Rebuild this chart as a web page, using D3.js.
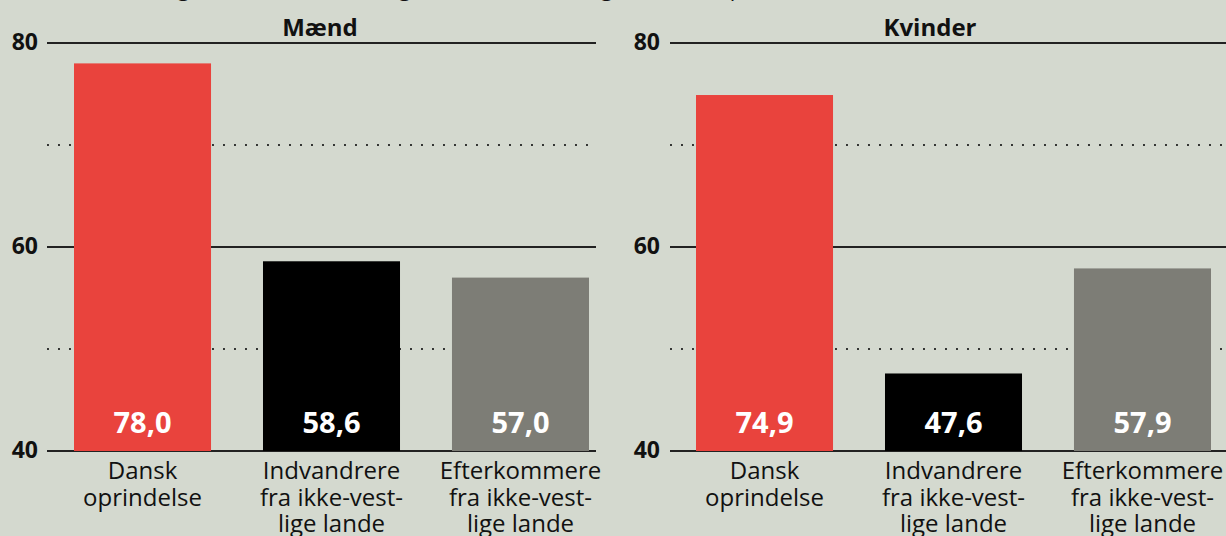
<!DOCTYPE html>
<html>
<head>
<meta charset="utf-8">
<script src="https://cdn.jsdelivr.net/npm/d3@7"></script>
<style>
  html, body { margin: 0; padding: 0; background: #d4d9cf; }
  svg { display: block; font-family: "Open Sans", "Noto Sans", sans-serif; }
</style>
</head>
<body>
<div id="chart"></div>
<script>
// data
var categories = [
  ["Dansk", "oprindelse"],
  ["Indvandrere", "fra ikke-vest-", "lige lande"],
  ["Efterkommere", "fra ikke-vest-", "lige lande"]
];
var maend = [78.0, 58.6, 57.0];
var kvinder = [74.9, 47.6, 57.9];
var panelTitles = ["Mænd", "Kvinder"];
var solidTicks = [40, 60, 80];
var dottedTicks = [50, 70];
var barColors = ["#e9433d", "#000000", "#7d7d76"];
var topTitle = "Andel i beskæftigelse blandt 30-59-årige efter herkomst og køn, 2019, pct.";

var W = 1226, H = 536;

// panel geometry
var panels = [
  { title: panelTitles[0], values: maend, lineX0: 47, lineX1: 596, barX0: 74, barX1: 589, labelX: 38, titleX: 320 },
  { title: panelTitles[1], values: kvinder, lineX0: 670, lineX1: 1226, barX0: 696, barX1: 1211, labelX: 660, titleX: 930 }
];

var locale = d3.formatLocale({ decimal: ",", thousands: ".", grouping: [3], currency: ["", " kr."] });
var fmt = locale.format(".1f");

var y = d3.scaleLinear().domain([40, 80]).range([451, 43]);

var svg = d3.select("#chart").append("svg")
  .attr("width", W)
  .attr("height", H);

svg.append("rect").attr("width", W).attr("height", H).attr("fill", "#d4d9cf");

// title cut off at the top
svg.append("text")
  .attr("x", 14)
  .attr("y", -4)
  .style("font-size", "22px")
  .attr("fill", "#111")
  .text(topTitle);

panels.forEach(function(p){
  var g = svg.append("g");

  var x = d3.scaleBand()
    .domain(d3.range(categories.length))
    .range([p.barX0, p.barX1])
    .paddingInner(0.275)
    .paddingOuter(0);

  // dotted grid
  g.selectAll(".dot")
    .data(dottedTicks)
    .enter()
    .append("line")
    .attr("x1", p.lineX0 + 1)
    .attr("x2", p.lineX1)
    .attr("y1", function(d){ return y(d); })
    .attr("y2", function(d){ return y(d); })
    .attr("stroke", "#111")
    .attr("stroke-width", 2.2)
    .attr("stroke-linecap", "round")
    .attr("stroke-dasharray", "0,11");

  // solid grid
  g.selectAll(".solid")
    .data(solidTicks)
    .enter()
    .append("line")
    .attr("x1", p.lineX0)
    .attr("x2", p.lineX1)
    .attr("y1", function(d){ return y(d); })
    .attr("y2", function(d){ return y(d); })
    .attr("stroke", "#222")
    .attr("stroke-width", 2);

  // tick labels
  g.selectAll(".tick")
    .data(solidTicks)
    .enter()
    .append("text")
    .attr("x", p.labelX)
    .attr("y", function(d){ return y(d) + 7; })
    .attr("text-anchor", "end")
    .style("font-size", "23px")
    .style("font-weight", "bold")
    .attr("fill", "#111")
    .text(function(d){ return d; });

  // panel title
  g.append("text")
    .attr("x", p.titleX)
    .attr("y", 36)
    .attr("text-anchor", "middle")
    .style("font-size", "24px")
    .style("font-weight", "bold")
    .attr("fill", "#111")
    .text(p.title);

  // bars
  g.selectAll(".bar")
    .data(p.values)
    .enter()
    .append("rect")
    .attr("x", function(d, i){ return x(i); })
    .attr("width", x.bandwidth())
    .attr("y", function(d){ return y(d); })
    .attr("height", function(d){ return y(40) - y(d); })
    .attr("fill", function(d, i){ return barColors[i]; });

  // value labels
  g.selectAll(".val")
    .data(p.values)
    .enter()
    .append("text")
    .attr("x", function(d, i){ return x(i) + x.bandwidth()/2; })
    .attr("y", 433)
    .attr("text-anchor", "middle")
    .style("font-size", "29px")
    .style("font-weight", "bold")
    .attr("fill", "#fff")
    .text(function(d){ return fmt(d); });

  // category labels
  var cat = g.selectAll(".cat")
    .data(categories)
    .enter()
    .append("text")
    .attr("text-anchor", "middle")
    .style("font-size", "24px")
    .attr("fill", "#111");

  cat.selectAll("tspan")
    .data(function(d, i){ return d.map(function(s){ return { s: s, i: i }; }); })
    .enter()
    .append("tspan")
    .attr("x", function(d){ return x(d.i) + x.bandwidth()/2; })
    .attr("y", function(d, j){ return 479 + j*26.5; })
    .text(function(d){ return d.s; });
});
</script>
</body>
</html>
